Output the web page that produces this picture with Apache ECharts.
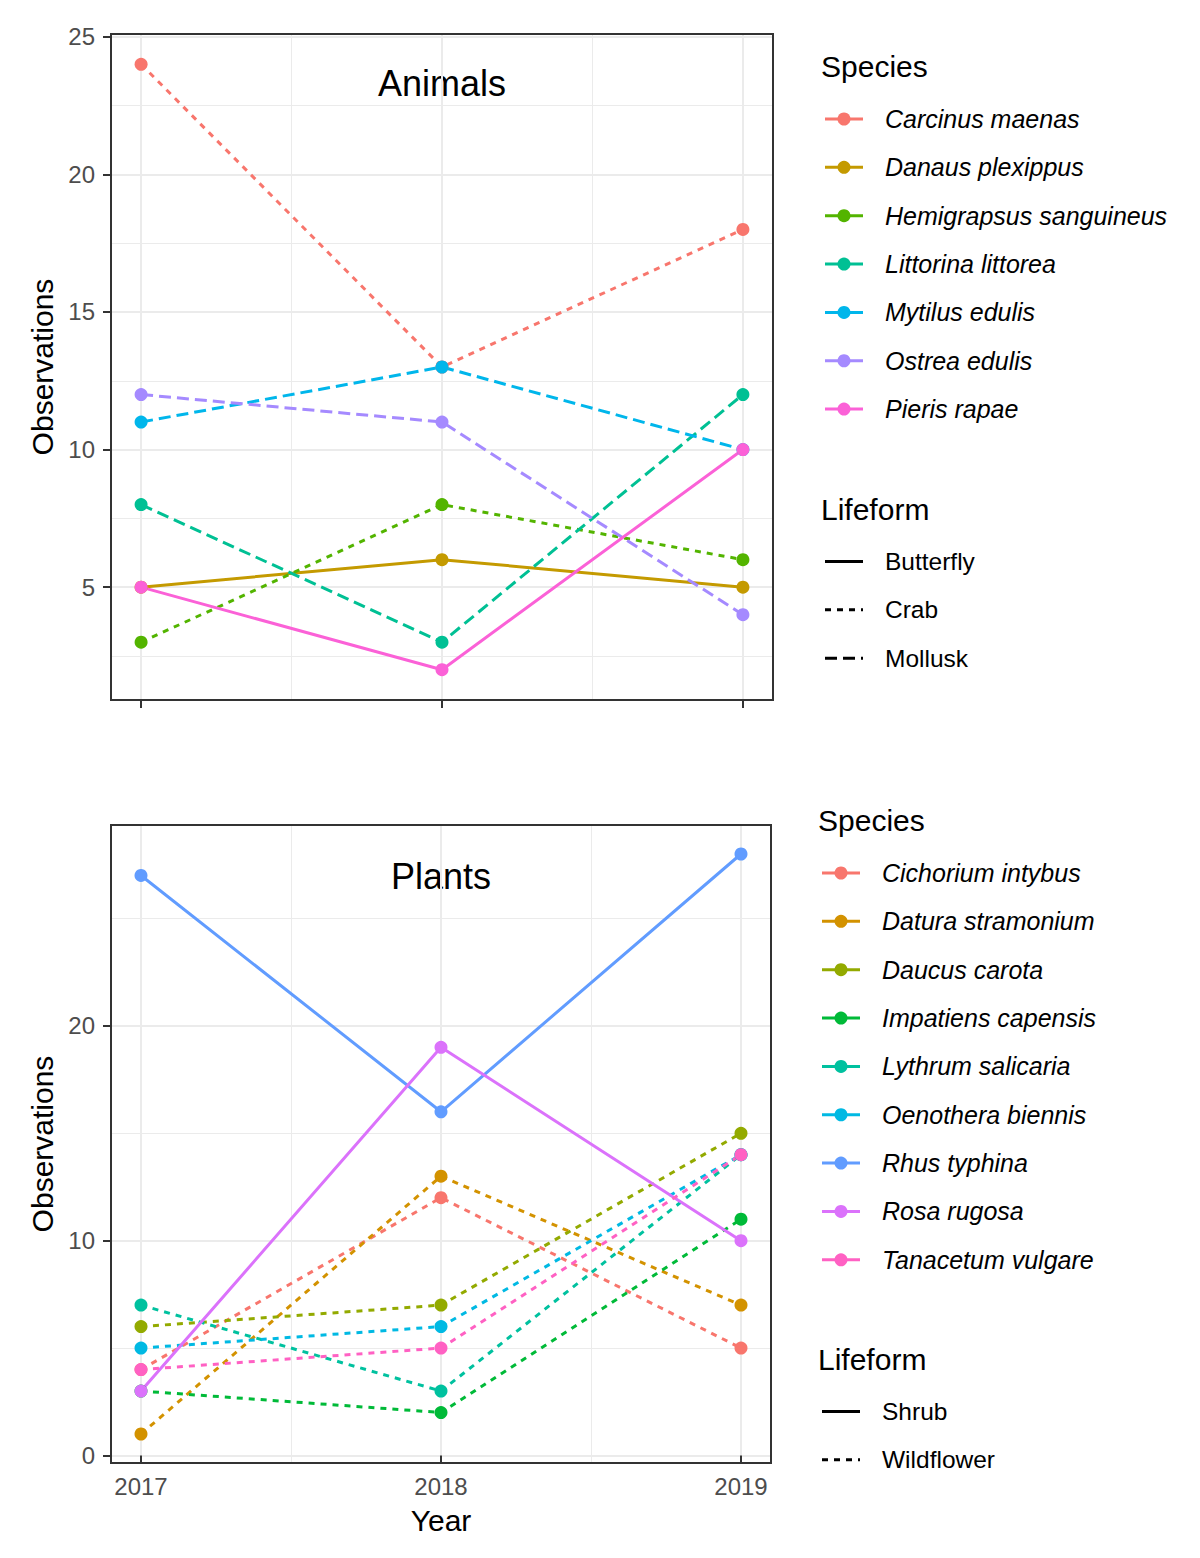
<!DOCTYPE html>
<html><head><meta charset="utf-8">
<script src="https://cdn.jsdelivr.net/npm/echarts@6/dist/echarts.min.js"></script>
<style>html,body{margin:0;padding:0;background:#fff}#c{width:1200px;height:1558px}</style>
</head><body><div id="c"></div>
<script>
// ---------- DATA ----------
const years = [2017, 2018, 2019];

const animalSpecies = ['Carcinus maenas','Danaus plexippus','Hemigrapsus sanguineus','Littorina littorea','Mytilus edulis','Ostrea edulis','Pieris rapae'];
const animalLifeform = ['Crab','Butterfly','Crab','Mollusk','Mollusk','Mollusk','Butterfly'];
const animalValues = [
  [24, 13, 18],
  [5, 6, 5],
  [3, 8, 6],
  [8, 3, 12],
  [11, 13, 10],
  [12, 11, 4],
  [5, 2, 10]
];
const animalColors = ['#F8766D','#C49A00','#53B400','#00C094','#00B6EB','#A58AFF','#FB61D7'];
const animalLifeforms = ['Butterfly','Crab','Mollusk'];
const animalYTicks = [5, 10, 15, 20, 25];

const plantSpecies = ['Cichorium intybus','Datura stramonium','Daucus carota','Impatiens capensis','Lythrum salicaria','Oenothera biennis','Rhus typhina','Rosa rugosa','Tanacetum vulgare'];
const plantLifeform = ['Wildflower','Wildflower','Wildflower','Wildflower','Wildflower','Wildflower','Shrub','Shrub','Wildflower'];
const plantValues = [
  [4, 12, 5],
  [1, 13, 7],
  [6, 7, 15],
  [3, 2, 11],
  [7, 3, 14],
  [5, 6, 14],
  [27, 16, 28],
  [3, 19, 10],
  [4, 5, 14]
];
const plantColors = ['#F8766D','#D39200','#93AA00','#00BA38','#00C19F','#00B9E3','#619CFF','#DB72FB','#FF61C3'];
const plantLifeforms = ['Shrub','Wildflower'];
const plantYTicks = [0, 10, 20];

// ---------- STYLE ----------
const FONT = '"Liberation Sans", Arial, Helvetica, sans-serif';
const LW = 3;
const dashFor = {
  Butterfly: 'solid', Shrub: 'solid',
  Crab: [6, 6], Wildflower: [6, 6],
  Mollusk: [12, 6]
};
const zDash = t => (t === 'solid' ? null : t);

function xAxisCfg(gi, showLabels) {
  return {
    gridIndex: gi, type: 'value', min: 2016.9, max: 2019.1, splitNumber: 2,
    axisLine: { show: false },
    axisTick: { show: true, length: 8, customValues: years, lineStyle: { color: '#333333', width: 2 } },
    axisLabel: { show: showLabels, customValues: years, formatter: v => String(v), fontSize: 24, color: '#4D4D4D', margin: 11, fontFamily: FONT, showMinLabel: true, showMaxLabel: true },
    splitLine: { show: true, lineStyle: { color: '#EBEBEB', width: 2 } },
    minorTick: { show: false, splitNumber: 2 },
    minorSplitLine: { show: true, lineStyle: { color: '#EBEBEB', width: 1 } },
    name: showLabels ? 'Year' : '', nameLocation: 'middle', nameGap: 42,
    nameTextStyle: { fontSize: 30, color: '#000', fontFamily: FONT }
  };
}
function yAxisCfg(gi, min, max, splitNumber, ticks) {
  return {
    gridIndex: gi, type: 'value', min: min, max: max, splitNumber: splitNumber,
    axisLine: { show: false },
    axisTick: { show: true, length: 8, customValues: ticks, lineStyle: { color: '#333333', width: 2 } },
    axisLabel: { customValues: ticks, fontSize: 24, color: '#4D4D4D', margin: 16, fontFamily: FONT },
    splitLine: { show: true, lineStyle: { color: '#EBEBEB', width: 2 } },
    minorTick: { show: false, splitNumber: 2 },
    minorSplitLine: { show: true, lineStyle: { color: '#EBEBEB', width: 1 } },
    name: 'Observations', nameLocation: 'middle', nameGap: 50,
    nameTextStyle: { fontSize: 30, color: '#000', fontFamily: FONT }
  };
}

function buildSeries(gi, names, values, colors, lifeform) {
  const lines = [], pts = [];
  names.forEach((n, i) => {
    const data = years.map((y, j) => [y, values[i][j]]);
    lines.push({
      type: 'line', name: n, xAxisIndex: gi, yAxisIndex: gi, data: data,
      symbol: 'none', silent: true, animation: false, z: 2,
      lineStyle: { color: colors[i], width: LW, type: dashFor[lifeform[i]], cap: 'butt' },
      emphasis: { disabled: true }
    });
    pts.push({
      type: 'scatter', name: n, xAxisIndex: gi, yAxisIndex: gi, data: data,
      symbol: 'circle', symbolSize: 13, silent: true, animation: false, z: 3,
      itemStyle: { color: colors[i], opacity: 1 },
      emphasis: { disabled: true }
    });
  });
  return lines.concat(pts);
}

function txt(x, y, text, size, italic, align) {
  return {
    type: 'text', x: x, y: y, silent: true,
    style: {
      text: text, fontSize: size, fontFamily: FONT, fontStyle: italic ? 'italic' : 'normal',
      fill: '#000', align: align || 'left', verticalAlign: 'middle',
      textAlign: align || 'left', textVerticalAlign: 'middle'
    }
  };
}

function legend(x0, keyX0, keyLen, textX, titleY, rowY0, names, colors, lfTitleY, lfRowY0, lifeforms) {
  const g = [];
  const step = 48.35;
  g.push(txt(x0, titleY, 'Species', 30, false));
  names.forEach((n, i) => {
    const y = rowY0 + i * step;
    g.push({ type: 'line', silent: true, shape: { x1: keyX0, y1: y, x2: keyX0 + keyLen, y2: y }, style: { stroke: colors[i], lineWidth: LW } });
    g.push({ type: 'circle', silent: true, shape: { cx: keyX0 + keyLen / 2, cy: y, r: 6.5 }, style: { fill: colors[i] } });
    g.push(txt(textX, y, n, 25, true));
  });
  g.push(txt(x0, lfTitleY, 'Lifeform', 30, false));
  lifeforms.forEach((n, i) => {
    const y = lfRowY0 + i * step;
    g.push({ type: 'line', silent: true, shape: { x1: keyX0, y1: y, x2: keyX0 + keyLen, y2: y }, style: { stroke: '#000', lineWidth: LW, lineDash: zDash(dashFor[n]) } });
    g.push(txt(textX, y, n, 24.5, false));
  });
  return g;
}

const chart = echarts.init(document.getElementById('c'), null, { renderer: 'svg', width: 1200, height: 1558 });

const graphics = []
  .concat([txt(442, 83, 'Animals', 36, false, 'center'), txt(441, 876, 'Plants', 36, false, 'center')])
  .concat(legend(821, 825, 38, 885, 66, 119, animalSpecies, animalColors, 509, 561.5, animalLifeforms))
  .concat(legend(818, 822, 38, 882, 820, 873, plantSpecies, plantColors, 1359.5, 1411.5, plantLifeforms));

chart.setOption({
  animation: false,
  backgroundColor: '#fff',
  textStyle: { fontFamily: FONT },
  grid: [
    { left: 111, top: 34, width: 662, height: 666, show: true, borderColor: '#333333', borderWidth: 2, backgroundColor: 'transparent', z: 5 },
    { left: 111, top: 825, width: 660, height: 638, show: true, borderColor: '#333333', borderWidth: 2, backgroundColor: 'transparent', z: 5 }
  ],
  xAxis: [xAxisCfg(0, false), xAxisCfg(1, true)],
  yAxis: [yAxisCfg(0, 0.9, 25.1, 5, animalYTicks), yAxisCfg(1, -0.35, 29.35, 3, plantYTicks)],
  series: buildSeries(0, animalSpecies, animalValues, animalColors, animalLifeform)
    .concat(buildSeries(1, plantSpecies, plantValues, plantColors, plantLifeform)),
  graphic: graphics
});
</script>
</body></html>
